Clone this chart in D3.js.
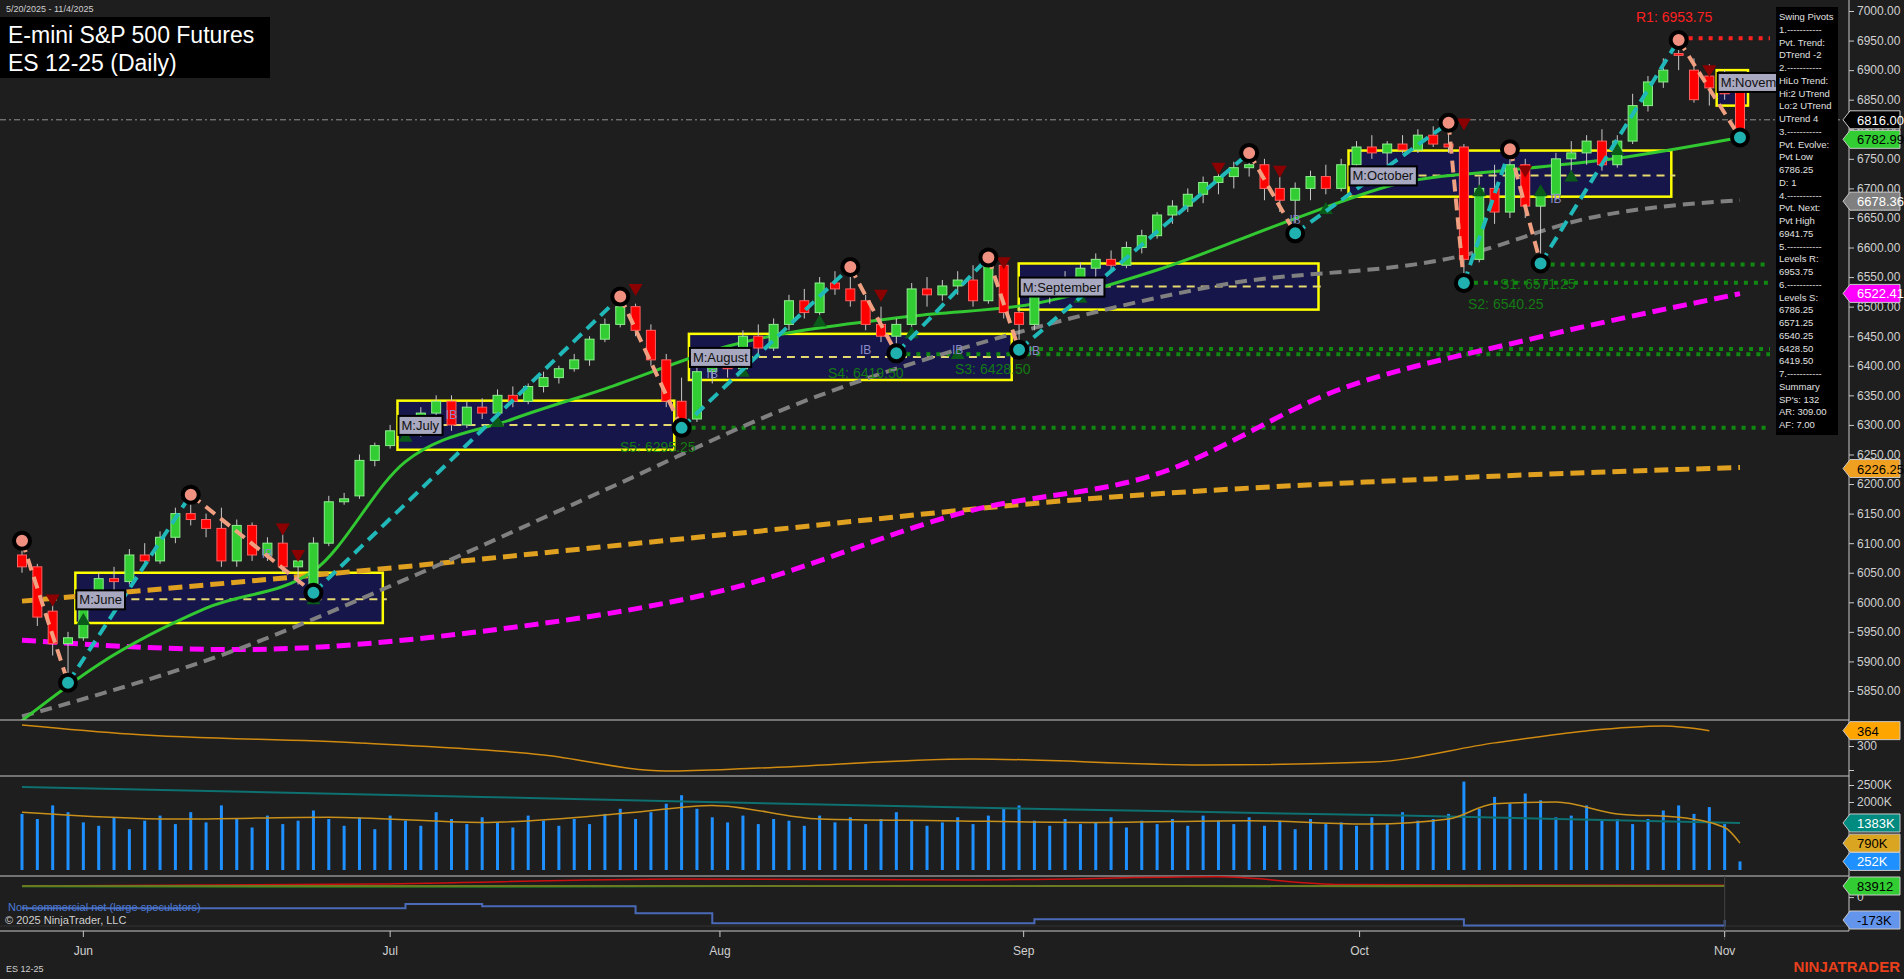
<!DOCTYPE html>
<html><head><meta charset="utf-8">
<script src="https://cdn.jsdelivr.net/npm/d3@7"></script>
<style>body{margin:0;background:#1e1e1e;overflow:hidden}text{font-family:"Liberation Sans",Arial,sans-serif}</style>
</head><body><div id="root"></div>
<script>
const width = 1904, height = 979

// daily bars [open, high, low, close], index 0 = first visible bar
const ohlc = [
[6080,6104,6050,6060],[6060,6065,5960,5975],[5985,5995,5910,5930],[5930,5950,5864,5940],[5940,6020,5935,6010],
[6010,6050,6000,6040],[6040,6060,6020,6035],[6035,6090,6030,6080],[6080,6100,6060,6070],[6070,6120,6065,6110],
[6110,6160,6100,6150],[6150,6182,6130,6140],[6140,6150,6110,6125],[6125,6160,6060,6070],[6070,6140,6060,6130],
[6130,6135,6070,6080],[6080,6110,6070,6100],[6100,6115,6050,6060],[6060,6080,6030,6070],[6030,6110,6016,6100],
[6100,6180,6095,6170],[6170,6185,6165,6175],[6180,6250,6175,6240],[6240,6270,6230,6265],[6265,6300,6260,6290],
[6290,6310,6280,6300],[6300,6330,6280,6320],[6320,6350,6300,6340],[6340,6350,6290,6300],[6300,6340,6295,6330],
[6330,6345,6310,6320],[6320,6360,6315,6350],[6350,6365,6330,6340],[6340,6370,6335,6365],[6365,6390,6355,6380],
[6380,6400,6370,6395],[6395,6420,6390,6410],[6410,6450,6400,6445],[6445,6480,6440,6470],[6470,6517,6465,6500],
[6500,6505,6450,6460],[6460,6470,6400,6410],[6410,6420,6330,6340],[6340,6380,6295,6310],[6310,6400,6305,6390],
[6390,6420,6370,6410],[6410,6430,6380,6395],[6395,6460,6390,6450],[6450,6470,6420,6430],[6430,6480,6425,6470],
[6470,6520,6460,6510],[6510,6530,6480,6490],[6490,6550,6485,6540],[6540,6560,6520,6530],[6530,6567,6500,6510],
[6510,6520,6460,6470],[6470,6500,6440,6450],[6450,6480,6421,6470],[6470,6540,6465,6530],[6530,6550,6500,6520],
[6520,6545,6510,6535],[6535,6560,6520,6545],[6545,6570,6500,6510],[6510,6583,6505,6570],[6570,6575,6480,6490],
[6490,6500,6427,6470],[6470,6530,6460,6520],[6520,6545,6505,6540],[6540,6560,6520,6530],[6530,6575,6525,6565],
[6565,6590,6550,6580],[6580,6595,6560,6570],[6570,6610,6565,6600],[6600,6630,6590,6620],[6620,6660,6615,6655],
[6655,6680,6640,6670],[6670,6700,6660,6690],[6690,6720,6675,6710],[6710,6730,6690,6720],[6720,6745,6700,6735],
[6735,6760,6720,6740],[6740,6750,6680,6700],[6700,6720,6660,6680],[6680,6710,6624,6700],[6700,6730,6680,6720],
[6720,6740,6690,6700],[6700,6750,6695,6740],[6740,6780,6730,6770],[6770,6790,6750,6760],[6760,6780,6740,6775],
[6775,6790,6760,6765],[6765,6800,6760,6790],[6790,6805,6770,6775],[6775,6811,6760,6770],[6770,6775,6540,6580],
[6580,6720,6575,6700],[6700,6740,6640,6660],[6660,6766,6650,6740],[6740,6750,6650,6670],[6670,6700,6573,6690],
[6690,6760,6680,6750],[6750,6780,6720,6760],[6760,6790,6740,6780],[6780,6800,6730,6740],[6740,6790,6735,6780],
[6780,6860,6775,6840],[6840,6890,6830,6880],[6880,6920,6870,6900],[6928,6951,6900,6925],[6900,6920,6845,6850],
[6890,6910,6840,6870],[6880,6900,6850,6860],[6870,6880,6786,6800]
]
const volumeK = [
1650,1500,1900,1700,1400,1300,1550,1200,1450,1600,1350,1700,1400,1900,1500,1250,1600,1350,1450,1750,
1500,1300,1550,1200,1600,1450,1300,1700,1500,1350,1550,1400,1250,1600,1450,1300,1500,1350,1650,1800,
1500,1700,1950,2200,1800,1550,1400,1600,1350,1500,1450,1300,1600,1400,1550,1350,1500,1700,1450,1300,
1400,1550,1350,1600,1800,1900,1450,1300,1500,1350,1400,1550,1250,1450,1350,1500,1300,1600,1450,1350,
1550,1300,1450,1200,1500,1350,1400,1300,1550,1350,1700,1450,1500,1650,2600,1800,2150,1950,2250,2050,
1550,1600,1900,1450,1500,1350,1500,1750,1900,1650,1850,1350,252
]
const months = [{label:'Jun',i:4},{label:'Jul',i:24},{label:'Aug',i:45.5},{label:'Sep',i:65.3},{label:'Oct',i:87.2},{label:'Nov',i:111}]
// [bar index, value]
const sma20 = [[0,5800],[5,5895],[12,5990],[19,6053],[25,6238],[32,6310],[38,6361],[46,6433],[58,6484],[66,6505],[74,6562],[83,6649],[90,6710],[97,6731],[104,6751],[112,6786]]
const sma50 = [[0,5807],[14,5920],[26,6050],[38,6190],[50,6330],[66,6464],[78,6536],[94,6587],[102,6649],[112,6680]]
const sma100 = [[0,5936],[14,5920],[30,5951],[46,6022],[62,6156],[74,6217],[86,6361],[98,6443],[112,6522]]
const sma200 = [[0,6002],[22,6053],[46,6115],[70,6176],[94,6211],[112,6228]]
const pivots = [[0,6104,'H'],[3,5864,'L'],[11,6182,'H'],[19,6016,'L'],[39,6517,'H'],[43,6295,'L'],[54,6567,'H'],[57,6421,'L'],
  [63,6583,'H'],[65,6427,'L'],[80,6760,'H'],[83,6624,'L'],[93,6811,'H'],[94,6540,'L'],[97,6766,'H'],[99,6573,'L'],[108,6951,'H'],[112,6786,'L']]
const monthBoxes = [{n:'M:June',a:4,b:23,hi:6050,lo:5965,mid:6005},{n:'M:July',a:25,b:42,hi:6341,lo:6258,mid:6300},
  {n:'M:August',a:44,b:64,hi:6454,lo:6376,mid:6415},{n:'M:September',a:65.5,b:84,hi:6573,lo:6495,mid:6534},
  {n:'M:October',a:87,b:107,hi:6764,lo:6686,mid:6722},{n:'M:November',a:111,b:112,hi:6900,lo:6840,mid:6880}]
const levels = [{v:6953.75,a:108,c:'#ff2020',t:'R1: 6953.75',tx:1636,ty:22},{v:6571.25,a:99,c:'#1a8a1a',t:'S1: 6571.25',tx:1500,ty:289},
  {v:6540.25,a:94,c:'#1a8a1a',t:'S2: 6540.25',tx:1468,ty:309},{v:6428.50,a:65,c:'#1a8a1a',t:'S3: 6428.50',tx:955,ty:374},
  {v:6419.50,a:57,c:'#1a8a1a',t:'S4: 6419.50',tx:828,ty:378},{v:6295.25,a:43,c:'#1a8a1a',t:'S5: 6295.25',tx:620,ty:452}]
const upTri = [[4,5965],[19,6000],[25,6275],[31,6300],[47,6385],[52,6470],[58,6450],[61,6415],[69,6510],[85,6660],[88,6720],[95,6690],[99,6690],[101,6715],[104,6760]]
const downTri = [[2,6010],[17,6130],[18,6085],[40,6535],[56,6525],[64,6580],[78,6740],[82,6735],[94,6815],[98,6735],[110,6905]]
const ibMarks = [[16,6075],[28,6310],[45,6380],[55,6420],[61,6420],[66,6418],[83,6640],[100,6675]]
const atr = [[0,388],[7,350],[22,313],[34,263],[42,196],[48,208],[62,246],[77,221],[88,233],[96,313],[102,363],[107,383],[110,364]]
const volSlow = [[0,2440],[30,2150],[60,1850],[90,1600],[112,1383]]
const volFast = [[0,1700],[10,1500],[20,1550],[30,1400],[40,1700],[45,1900],[52,1500],[60,1450],[70,1400],[80,1450],[88,1350],[93,1500],[96,1950],[100,2000],[104,1650],[108,1550],[111,1250],[112,790]]
const cotComm = [[0,-84],[23,-84],[25,-53],[30,-70],[40,-122],[45,-198],[63,-198],[66,-168],[86,-168],[94,-214],[111,-173]]
const cotLarge = [[0,84],[23,99],[43,137],[62,130],[78,153],[86,95],[111,90]]
const cotSmall = [[0,80],[30,78],[60,84],[90,80],[111,84]]
const cotOI = [[0,83.9],[111,83.9]]
const pivotText = ['Swing Pivots','1.-----------','Pvt. Trend:','DTrend -2','2.-----------','HiLo Trend:','Hi:2 UTrend','Lo:2 UTrend','UTrend 4',
 '3.-----------','Pvt. Evolve:','Pvt Low','6786.25','D: 1','4.-----------','Pvt. Next:','Pvt High','6941.75','5.-----------','Levels R:',
 '6953.75','6.-----------','Levels S:','6786.25','6571.25','6540.25','6428.50','6419.50','7.-----------','Summary',"SP's: 132",'AR: 309.00','AF: 7.00']
const priceTags = [{v:6816,t:'6816.00',bg:'#000',fg:'#fff'},{v:6782.99,t:'6782.99',bg:'#32cd32',fg:'#000'},
  {v:6678.36,t:'6678.36',bg:'#808080',fg:'#fff'},{v:6522.41,t:'6522.41',bg:'#ff00ff',fg:'#fff'},{v:6226.25,t:'6226.25',bg:'#f0a020',fg:'#000'}]

const svg = d3.select('#root').append('svg').attr('width', width).attr('height', height)
svg.append('rect').attr('width', width).attr('height', height).attr('fill', '#1e1e1e')

const axisX = 1849
const x = d3.scaleLinear().domain([0, 112]).range([22, 1740])
const y = d3.scaleLinear().domain([5850, 7000]).range([691, 11])
const yAtr = d3.scaleLinear().domain([200, 300]).range([770, 746])
const yVol = d3.scaleLinear().domain([0, 2500]).range([870, 785])
const yCot = d3.scaleLinear().domain([-173, 83.9]).range([920, 886])
const line = (ys) => d3.line().x(d => x(d[0])).y(d => ys(d[1])).curve(d3.curveMonotoneX)

const main = svg.append('g')
main.append('clipPath').attr('id','pc').append('rect').attr('x',0).attr('y',0).attr('width',axisX).attr('height',720)
const pg = main.append('g').attr('clip-path','url(#pc)')

// month boxes
monthBoxes.forEach(b => {
  pg.append('rect').attr('x', x(b.a) - 8).attr('y', y(b.hi)).attr('width', x(b.b) - x(b.a) + 16).attr('height', y(b.lo) - y(b.hi))
    .attr('fill', '#16164a').attr('stroke', '#ffff00').attr('stroke-width', 2.5)
  pg.append('line').attr('x1', x(b.a) - 8).attr('x2', x(b.b) + 12).attr('y1', y(b.mid)).attr('y2', y(b.mid))
    .attr('stroke', '#e6d870').attr('stroke-width', 2).attr('stroke-dasharray', '8,6')
})
pg.append('line').attr('x1',0).attr('x2',axisX).attr('y1',y(6816)).attr('y2',y(6816)).attr('stroke','#909090').attr('stroke-dasharray','6,3,2,3')

// levels
levels.forEach(l => {
  pg.append('line').attr('x1', x(l.a)).attr('x2', x(112) + 30).attr('y1', y(l.v)).attr('y2', y(l.v))
    .attr('stroke', l.c === '#ff2020' ? '#ff2020' : '#118811').attr('stroke-width', 4).attr('stroke-dasharray', '4,6')
})

// moving averages
pg.append('path').datum(sma200).attr('d', line(y)).attr('fill','none').attr('stroke','#e0a020').attr('stroke-width',5).attr('stroke-dasharray','14,7')
pg.append('path').datum(sma100).attr('d', line(y)).attr('fill','none').attr('stroke','#ff00ff').attr('stroke-width',5).attr('stroke-dasharray','14,7')
pg.append('path').datum(sma50).attr('d', line(y)).attr('fill','none').attr('stroke','#808080').attr('stroke-width',4).attr('stroke-dasharray','12,7')
pg.append('path').datum(sma20).attr('d', line(y)).attr('fill','none').attr('stroke','#32c832').attr('stroke-width',3)

// candles
const cw = 9
const cg = pg.append('g')
cg.selectAll('line').data(ohlc).enter().append('line')
  .attr('x1', (d, i) => x(i)).attr('x2', (d, i) => x(i)).attr('y1', d => y(d[1])).attr('y2', d => y(d[2]))
  .attr('stroke', '#c8c8c8').attr('stroke-width', 1)
cg.selectAll('rect').data(ohlc).enter().append('rect')
  .attr('x', (d, i) => x(i) - cw / 2).attr('width', cw)
  .attr('y', d => y(Math.max(d[0], d[3]))).attr('height', d => Math.max(1, Math.abs(y(d[0]) - y(d[3]))))
  .attr('fill', d => d[3] >= d[0] ? '#32cd32' : '#ff0000').attr('stroke', d => d[3] >= d[0] ? '#90ee90' : '#ff6060').attr('stroke-width', 1)

// signal triangles and IB marks
pg.selectAll('path.up').data(upTri).enter().append('path')
  .attr('d', d => `M${x(d[0])},${y(d[1]) - 10} l7,12 l-14,0 Z`).attr('fill', '#0a5a1a')
pg.selectAll('path.dn').data(downTri).enter().append('path')
  .attr('d', d => `M${x(d[0])},${y(d[1]) + 10} l7,-12 l-14,0 Z`).attr('fill', '#8b0000')
pg.selectAll('text.ib').data(ibMarks).enter().append('text')
  .attr('x', d => x(d[0])).attr('y', d => y(d[1])).attr('text-anchor', 'middle').attr('fill', '#8a8ac8').attr('font-size', 12).text('IB')

// zigzag
for (let k = 0; k < pivots.length - 1; k++) {
  const a = pivots[k], b = pivots[k + 1]
  pg.append('line').attr('x1', x(a[0])).attr('y1', y(a[1])).attr('x2', x(b[0])).attr('y2', y(b[1]))
    .attr('stroke', a[2] === 'H' ? '#f0a080' : '#20b8b8').attr('stroke-width', 4).attr('stroke-dasharray', '12,7')
}
pg.selectAll('circle.pv').data(pivots).enter().append('circle')
  .attr('cx', d => x(d[0])).attr('cy', d => y(d[1])).attr('r', 8)
  .attr('fill', d => d[2] === 'H' ? '#f09080' : '#20b0b0').attr('stroke', '#000').attr('stroke-width', 4)

levels.forEach(l => pg.append('text').attr('x', l.tx).attr('y', l.ty).attr('fill', l.c === '#ff2020' ? l.c : '#147a14').attr('font-size', 14).text(l.t))

// month labels
monthBoxes.forEach(b => {
  const tx = pg.append('text').attr('x', x(b.a) - 4).attr('y', y(b.mid) + 5).attr('font-family', 'DejaVu Sans Mono').attr('font-size', 13).attr('fill', '#111').text(b.n)
  const bb = tx.node().getBBox()
  pg.insert('rect', () => tx.node()).attr('x', bb.x - 3).attr('y', bb.y - 2).attr('width', bb.width + 6).attr('height', bb.height + 4)
    .attr('fill', '#a8a8c0').attr('stroke', '#000').attr('stroke-width', 2)
})

// panel separators
;[720, 776, 876, 931].forEach(v => svg.append('line').attr('x1', 0).attr('x2', axisX).attr('y1', v).attr('y2', v).attr('stroke', '#c8c8c8'))
svg.append('line').attr('x1', axisX).attr('x2', axisX).attr('y1', 0).attr('y2', 931).attr('stroke', '#c8c8c8')

// price axis
const ax = svg.append('g').attr('transform', `translate(${axisX},0)`)
ax.call(d3.axisRight(y).tickValues(d3.range(5850, 7001, 50)).tickSize(5).tickFormat(d3.format('.2f')))
ax.selectAll('path').remove()
ax.selectAll('line').attr('stroke', '#c8c8c8')
ax.selectAll('text').attr('fill', '#d0d0d0').attr('font-size', 12).attr('font-family', 'Liberation Sans')

function tag(yy, t, bg, fg) {
  const g = svg.append('g').attr('transform', `translate(${axisX - 6},${yy})`)
  g.append('path').attr('d', 'M0,0 L7,-9 L57,-9 L57,9 L7,9 Z').attr('fill', bg).attr('stroke', '#c8c8c8')
  g.append('text').attr('x', 14).attr('y', 5).attr('fill', fg).attr('font-size', 13).text(t)
}
priceTags.forEach(p => tag(y(p.v), p.t, p.bg, p.fg))

// ATR panel
svg.append('path').datum(atr).attr('d', line(yAtr)).attr('fill', 'none').attr('stroke', '#d08a10').attr('stroke-width', 1.5)
const aa = svg.append('g').attr('transform', `translate(${axisX},0)`).call(d3.axisRight(yAtr).tickValues([200, 300]).tickSize(5).tickFormat(d => d === 300 ? '300' : ''))
aa.selectAll('path').remove(); aa.selectAll('line').attr('stroke', '#c8c8c8'); aa.selectAll('text').attr('fill', '#d0d0d0').attr('font-size', 12)
tag(yAtr(364), '364', '#ffa500', '#000')

// volume panel
svg.append('g').selectAll('rect').data(volumeK).enter().append('rect')
  .attr('x', (d, i) => x(i) - 1.5).attr('width', 3).attr('y', d => yVol(d)).attr('height', d => yVol(0) - yVol(d)).attr('fill', '#1e90ff')
svg.append('path').datum(volSlow).attr('d', line(yVol)).attr('fill', 'none').attr('stroke', '#0e7070').attr('stroke-width', 2)
svg.append('path').datum(volFast).attr('d', line(yVol)).attr('fill', 'none').attr('stroke', '#c8901a').attr('stroke-width', 1.5)
const va = svg.append('g').attr('transform', `translate(${axisX},0)`).call(d3.axisRight(yVol).tickValues([2000, 2500]).tickSize(5).tickFormat(d => d + 'K'))
va.selectAll('path').remove(); va.selectAll('line').attr('stroke', '#c8c8c8'); va.selectAll('text').attr('fill', '#d0d0d0').attr('font-size', 12)
tag(yVol(1383), '1383K', '#008b80', '#fff')
tag(yVol(790), '790K', '#daa520', '#000')
tag(yVol(252), '252K', '#1e90ff', '#fff')

// COT panel
svg.append('line').attr('x1', 0).attr('x2', axisX).attr('y1', yCot(-173) + 6).attr('y2', yCot(-173) + 6).attr('stroke', '#333')
svg.append('path').datum(cotSmall).attr('d', line(yCot)).attr('fill', 'none').attr('stroke', '#22aa22').attr('stroke-width', 1.5)
svg.append('path').datum(cotLarge).attr('d', line(yCot)).attr('fill', 'none').attr('stroke', '#cc1010').attr('stroke-width', 1.5)
svg.append('path').datum(cotOI).attr('d', line(yCot)).attr('fill', 'none').attr('stroke', '#6b7a20').attr('stroke-width', 2)
svg.append('path').datum(cotComm).attr('d', d3.line().x(d => x(d[0])).y(d => yCot(d[1])).curve(d3.curveStepAfter)).attr('fill', 'none').attr('stroke', '#4a6ab8').attr('stroke-width', 2)
const ca = svg.append('g').attr('transform', `translate(${axisX},0)`).call(d3.axisRight(yCot).tickValues([0]).tickSize(5))
ca.selectAll('path').remove(); ca.selectAll('line').attr('stroke', '#c8c8c8'); ca.selectAll('text').attr('fill', '#d0d0d0').attr('font-size', 12)
tag(yCot(83.9), '83912', '#32cd32', '#000')
tag(yCot(-173), '-173K', '#6495ed', '#000')
svg.append('text').attr('x', 8).attr('y', 911).attr('fill', '#4a7ad8').attr('font-size', 11).text('Non-commercial net (large speculators)')
svg.append('text').attr('x', 5).attr('y', 924).attr('fill', '#d0d0d0').attr('font-size', 11).text('© 2025 NinjaTrader, LLC')

// x axis
svg.append('line').attr('x1', x(111)).attr('x2', x(111)).attr('y1', 876).attr('y2', 940).attr('stroke', '#444')
months.forEach(m => {
  svg.append('line').attr('x1', x(m.i)).attr('x2', x(m.i)).attr('y1', 931).attr('y2', 937).attr('stroke', '#c8c8c8')
  svg.append('text').attr('x', x(m.i)).attr('y', 955).attr('text-anchor', 'middle').attr('fill', '#d0d0d0').attr('font-size', 12).text(m.label)
})

// swing pivots box
svg.append('rect').attr('x', 1776).attr('y', 7).attr('width', 62).attr('height', 428).attr('fill', '#000')
svg.append('g').selectAll('text').data(pivotText).enter().append('text')
  .attr('x', 1779).attr('y', (d, i) => 20 + i * 12.75).attr('fill', '#e0e0e0').attr('font-size', 9.5).text(d => d)

// title
svg.append('rect').attr('x', 0).attr('y', 17).attr('width', 270).attr('height', 61).attr('fill', '#000')
svg.append('text').attr('x', 8).attr('y', 43).attr('fill', '#fff').attr('font-size', 23).text('E-mini S&P 500 Futures')
svg.append('text').attr('x', 8).attr('y', 71).attr('fill', '#fff').attr('font-size', 23).text('ES 12-25 (Daily)')
svg.append('text').attr('x', 6).attr('y', 12).attr('fill', '#d0d0d0').attr('font-size', 9).text('5/20/2025 - 11/4/2025')
svg.append('text').attr('x', 6).attr('y', 972).attr('fill', '#d0d0d0').attr('font-size', 9).text('ES 12-25')
svg.append('text').attr('x', 1900).attr('y', 972).attr('text-anchor', 'end').attr('fill', '#e8401c').attr('font-size', 15).attr('font-weight', 'bold').text('NINJATRADER')
</script></body></html>
